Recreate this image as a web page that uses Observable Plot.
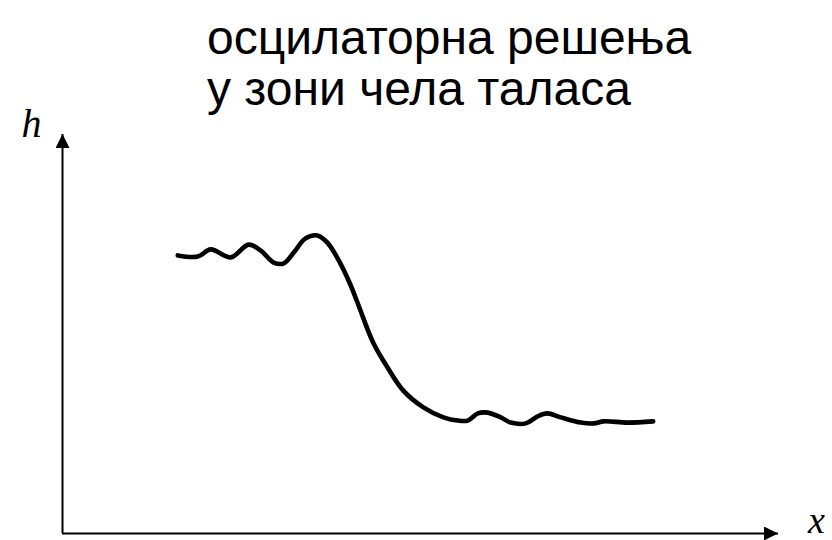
<!DOCTYPE html>
<html>
<head>
<meta charset="utf-8">
<script src="https://cdn.jsdelivr.net/npm/d3@7"></script>
<script src="https://cdn.jsdelivr.net/npm/@observablehq/plot@0.6"></script>
<style>
  html, body { margin: 0; padding: 0; background: #fff; }
  #wrap { position: relative; width: 832px; height: 540px; }
  #title { position: absolute; left: 207px; top: 12px; font-family: "Liberation Sans", Arial, sans-serif; font-size: 48px; line-height: 51px; color: #000; white-space: nowrap; }
  #chart { position: absolute; left: 0; top: 0; }
</style>
</head>
<body>
<div id="wrap">
  <div id="chart"></div>
  <div id="title">осцилаторна решења<br>у зони чела таласа</div>
</div>
<script>
const xs = [1.61, 1.89, 2.07, 2.35, 2.60, 2.77, 2.95, 3.09, 3.23, 3.39, 3.56, 3.70, 3.88, 4.02, 4.13, 4.34, 4.54, 4.76, 5.04, 5.32, 5.52, 5.66, 5.80, 5.94, 6.12, 6.26, 6.47, 6.63, 6.77, 6.96, 7.24, 7.42, 7.56, 7.89, 8.25];
const hs = [6.97, 6.94, 7.12, 6.92, 7.24, 7.09, 6.79, 6.77, 7.04, 7.39, 7.47, 7.29, 6.77, 6.24, 5.74, 4.78, 4.16, 3.58, 3.16, 2.91, 2.83, 2.83, 3.01, 3.03, 2.91, 2.78, 2.76, 2.93, 3.01, 2.91, 2.78, 2.76, 2.81, 2.78, 2.81];
const axisLabels = ["h", "x"];

const curve = xs.map((x, i) => ({x, h: hs[i]}));

const plot = Plot.plot({
  width: 832,
  height: 540,
  marginLeft: 62,
  marginRight: 54,
  marginTop: 134,
  marginBottom: 7,
  x: {domain: [0, 10], axis: null},
  y: {domain: [0, 10], axis: null},
  style: {background: "#fff", overflow: "visible"},
  marks: [
    Plot.ruleX([0], {y1: 0, y2: 10, stroke: "#000", strokeWidth: 2, className: "axis-v"}),
    Plot.ruleY([0], {x1: 0, x2: 10, stroke: "#000", strokeWidth: 2, className: "axis-h"}),
    Plot.line(curve, {x: "x", y: "h", stroke: "#000", strokeWidth: 4.6, curve: "catmull-rom", strokeLinecap: "round", strokeLinejoin: "round"}),
    Plot.text([{x: 0, y: 10, t: axisLabels[0]}], {x: "x", y: "y", text: "t", dx: -31, dy: -10, fontSize: 40, fontStyle: "italic", fontFamily: "Liberation Serif, serif", fill: "#000"}),
    Plot.text([{x: 10, y: 0, t: axisLabels[1]}], {x: "x", y: "y", text: "t", dx: 38, dy: -13, fontSize: 38, fontStyle: "italic", fontFamily: "Liberation Serif, serif", fill: "#000"})
  ]
});

// arrowheads for the axes
const svg = d3.select(plot);
const defs = svg.insert("defs", ":first-child");
defs.append("marker")
  .attr("id", "arrowhead")
  .attr("viewBox", "0 0 10 10")
  .attr("refX", 10).attr("refY", 5)
  .attr("markerUnits", "userSpaceOnUse")
  .attr("markerWidth", 14).attr("markerHeight", 14)
  .attr("orient", "auto")
  .append("path").attr("d", "M0,0 L10,5 L0,10 Z").attr("fill", "#000");
svg.selectAll(".axis-v line, .axis-h line").attr("marker-end", "url(#arrowhead)");

document.getElementById("chart").appendChild(plot);
</script>
</body>
</html>
